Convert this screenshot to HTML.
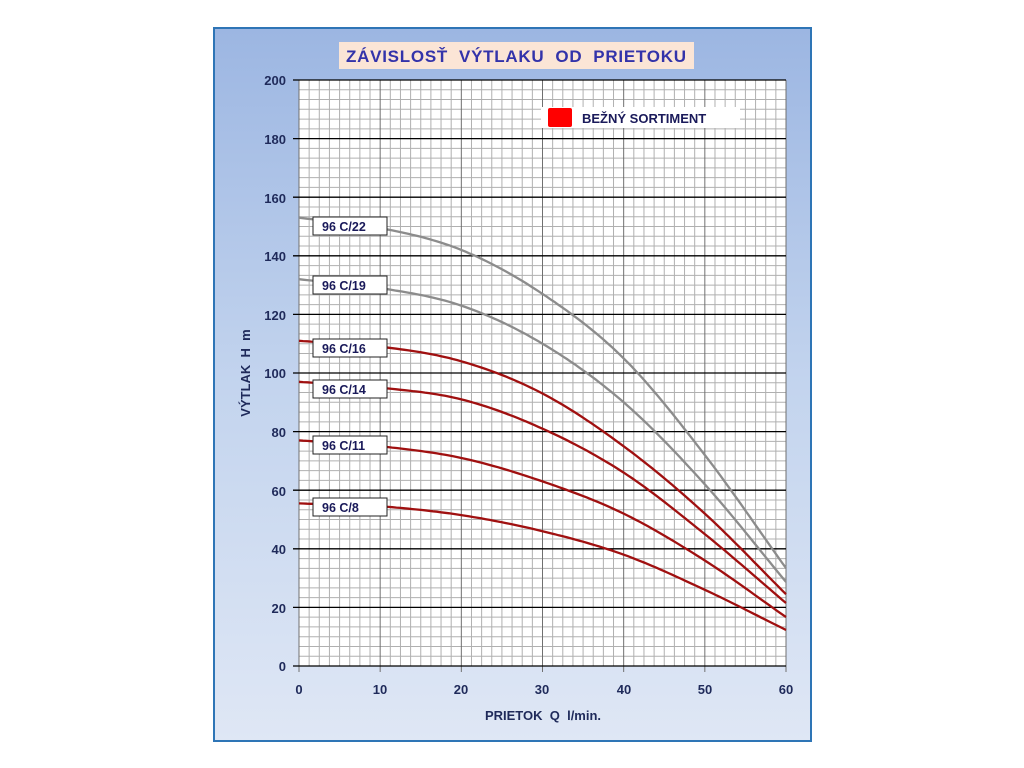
<!DOCTYPE html>
<html><head><meta charset="utf-8"><style>
body{margin:0;background:#fff;width:1024px;height:768px;overflow:hidden}
svg{display:block}
text{font-family:"Liberation Sans",sans-serif;font-weight:bold;white-space:pre}
</style></head><body>
<svg id="s" width="1024" height="768" xmlns="http://www.w3.org/2000/svg">
<defs><linearGradient id="bg" x1="0" y1="0" x2="0" y2="1">
<stop offset="0" stop-color="#9cb6e2"/><stop offset="0.5" stop-color="#c3d4ee"/><stop offset="1" stop-color="#dfe7f5"/></linearGradient></defs>
<rect x="214" y="28" width="597" height="713" fill="url(#bg)" stroke="#2e75b6" stroke-width="2"/>
<rect x="339" y="42" width="355" height="27" fill="#fbe5d6"/>
<text x="516" y="62" font-size="17" fill="#3333aa" text-anchor="middle" textLength="340" xml:space="preserve">ZÁVISLOSŤ  VÝTLAKU  OD  PRIETOKU</text>
<rect x="299" y="80" width="487" height="586" fill="#fff"/>
<g id="grid"></g>
<g id="curves"></g>
<g font-size="13" fill="#1f2a5a" text-anchor="end">
<text x="286" y="671">0</text><text x="286" y="613">20</text><text x="286" y="554">40</text><text x="286" y="496">60</text><text x="286" y="437">80</text><text x="286" y="378">100</text><text x="286" y="320">120</text><text x="286" y="261">140</text><text x="286" y="203">160</text><text x="286" y="144">180</text><text x="286" y="85">200</text>
</g>
<g font-size="13" fill="#1f2a5a" text-anchor="middle">
<text x="299" y="694">0</text><text x="380" y="694">10</text><text x="461" y="694">20</text><text x="542" y="694">30</text><text x="624" y="694">40</text><text x="705" y="694">50</text><text x="786" y="694">60</text>
</g>
<text x="543" y="720" font-size="13" fill="#1f2a5a" text-anchor="middle" xml:space="preserve">PRIETOK  Q  l/min.</text>
<text transform="translate(250,373) rotate(-90)" font-size="13" fill="#1f2a5a" text-anchor="middle" xml:space="preserve">VÝTLAK  H  m</text>
<rect x="541" y="107" width="199" height="21" fill="#fff"/>
<rect x="548" y="108" width="24" height="19" fill="#ff0000" rx="2"/>
<text x="582" y="123" font-size="13" fill="#1a1a5a">BEŽNÝ SORTIMENT</text>
<g id="labels" font-size="12.5" fill="#1a1a5a">
<rect x="313" y="217" width="74" height="18" fill="#fff" stroke="#222"/><text x="322" y="231">96 C/22</text>
<rect x="313" y="276" width="74" height="18" fill="#fff" stroke="#222"/><text x="322" y="290">96 C/19</text>
<rect x="313" y="339" width="74" height="18" fill="#fff" stroke="#222"/><text x="322" y="353">96 C/16</text>
<rect x="313" y="380" width="74" height="18" fill="#fff" stroke="#222"/><text x="322" y="394">96 C/14</text>
<rect x="313" y="436" width="74" height="18" fill="#fff" stroke="#222"/><text x="322" y="450">96 C/11</text>
<rect x="313" y="498" width="74" height="18" fill="#fff" stroke="#222"/><text x="322" y="512">96 C/8</text>
</g>
</svg>
<script>
var NS="http://www.w3.org/2000/svg";
function X(q){return 299+q*487/60}function Y(h){return 666-h*586/200}
function el(p,t,a){var e=document.createElementNS(NS,t);for(var k in a)e.setAttribute(k,a[k]);p.appendChild(e);return e}
var g=document.getElementById('grid');
for(var i=0;i<=48;i++){var q=i*1.25,x=X(q);if(i%8==0)continue;el(g,'line',{x1:x,x2:x,y1:80,y2:666,stroke:'#b0b0b0','stroke-width':1});}
for(var i=0;i<=60;i++){if(i%6==0)continue;var y=Y(i*200/60);el(g,'line',{x1:299,x2:786,y1:y,y2:y,stroke:'#b0b0b0','stroke-width':1});}
for(var i=1;i<=6;i++){var x=X(i*10);el(g,'line',{x1:x,x2:x,y1:80,y2:672,stroke:'#707070','stroke-width':1});}
el(g,'line',{x1:299,x2:299,y1:80,y2:672,stroke:'#707070','stroke-width':1});
for(var i=0;i<=10;i++){var y=Y(i*20);el(g,'line',{x1:293,x2:786,y1:y,y2:y,stroke:'#000','stroke-width':1.3});}
var data=[
['#8c8c8c',[153,149.5,142,127,105,72,33.4]],
['#8c8c8c',[132,129,123,110,90,62,28.7]],
['#a01010',[111,109,104,93,75,52,24.5]],
['#a01010',[97,95,91,81,66,45,21.5]],
['#a01010',[77,75,71,63,52,36,16.7]],
['#a01010',[55.5,54.5,51.5,46,38,26,12.3]]];
var c=document.getElementById('curves');
data.forEach(function(d){var v=d[1],pts=[];
for(var t=0;t<=60;t+=0.5){var i=Math.min(5,Math.floor(t/10)),u=(t-i*10)/10;
var p0=v[Math.max(0,i-1)],p1=v[i],p2=v[i+1],p3=v[Math.min(6,i+2)];
if(i==0)p0=2*p1-p2;if(i+2>6)p3=2*p2-p1;
var h=0.5*((2*p1)+(-p0+p2)*u+(2*p0-5*p1+4*p2-p3)*u*u+(-p0+3*p1-3*p2+p3)*u*u*u);
pts.push(X(t).toFixed(1)+','+Y(h).toFixed(1));}
el(c,'polyline',{points:pts.join(' '),fill:'none',stroke:d[0],'stroke-width':2.3});});
</script>
</body></html>
